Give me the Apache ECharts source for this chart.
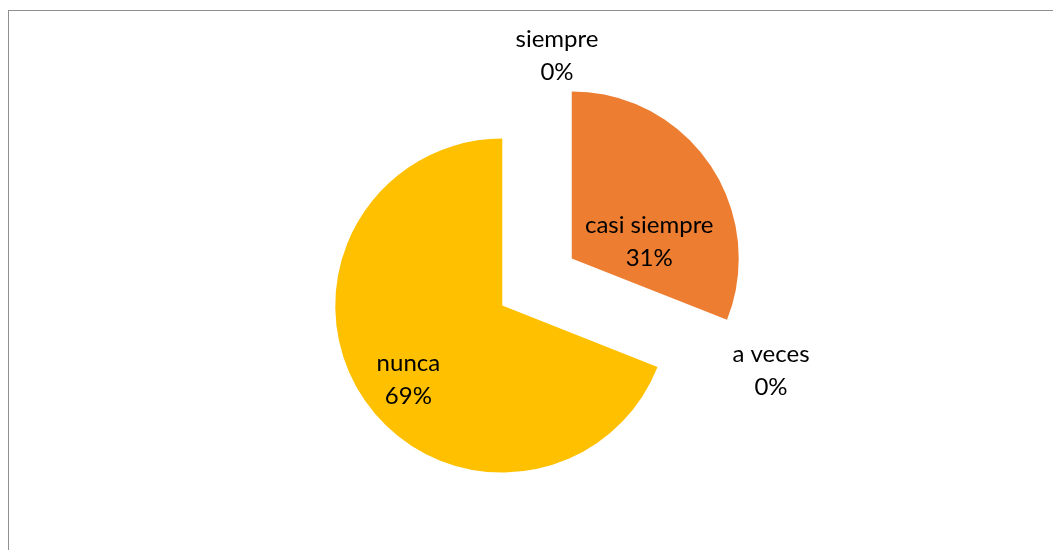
<!DOCTYPE html>
<html>
<head>
<meta charset="utf-8">
<script src="https://cdn.jsdelivr.net/npm/echarts@6/dist/echarts.min.js"></script>
<style>
  html, body { margin: 0; padding: 0; background: #fff; overflow: hidden; }
  #chart { position: absolute; left: 0; top: 0; width: 1053px; height: 550px; }
  .frame {
    position: absolute; left: 8px; top: 10px; width: 1100px; height: 600px;
    border: 1px solid #8f8f8f; pointer-events: none;
  }
</style>
</head>
<body>
<div id="chart"></div>
<div class="frame"></div>
<script>
// datos del gráfico
const categories = ['siempre', 'casi siempre', 'a veces', 'nunca'];
const values = [0, 31, 0, 69];
const colors = ['#4472C4', '#ED7D31', '#A5A5A5', '#FFC000'];

// ajuste de etiquetas (estilo Excel)
const labelPlace = ['outside', 'inside', 'outside', 'inside'];
const labelShift = [[0, 0], [-6, 36], [0, 0], [-88, 74]];
const zeroLabelPos = { 0: [557, 56], 2: [771, 371] };

const chart = echarts.init(document.getElementById('chart'));

chart.setOption({
  animation: false,
  series: [{
    type: 'pie',
    center: [537, 282],
    radius: 167,
    startAngle: 90,
    clockwise: true,
    selectedMode: 'multiple',
    selectedOffset: 42,
    avoidLabelOverlap: false,
    percentPrecision: 0,
    emphasis: { disabled: true },
    label: {
      show: true,
      formatter: '{b}\n{d}%',
      fontFamily: 'Lato',
      fontSize: 24,
      lineHeight: 33,
      color: '#000',
      align: 'center'
    },
    labelLine: { show: false },
    labelLayout: function (p) {
      const pos = zeroLabelPos[p.dataIndex];
      if (!pos) return {};
      return { x: pos[0], y: pos[1], align: 'center', verticalAlign: 'middle' };
    },
    data: categories.map((name, i) => ({
      name: name,
      value: values[i],
      selected: values[i] > 0,
      itemStyle: { color: colors[i] },
      label: { position: labelPlace[i], offset: labelShift[i] },
      select: { label: { position: labelPlace[i], offset: labelShift[i] } }
    }))
  }]
});
</script>
</body>
</html>
